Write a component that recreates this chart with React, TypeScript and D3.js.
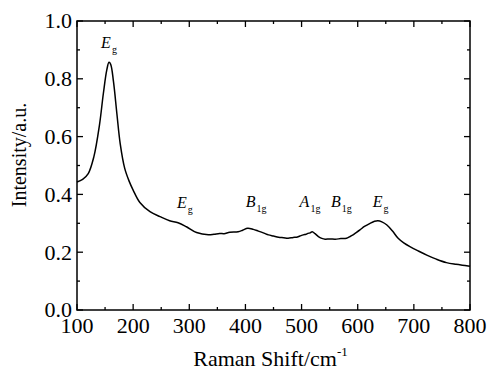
import React from 'react'
import * as d3 from 'd3'

// Raman spectrum
const shift = [100, 110, 120, 130, 140, 147, 153, 157, 160, 165, 171, 177, 185, 193, 200, 212, 230, 248, 265, 280, 295, 313, 334, 344, 354, 362, 372, 387, 395, 404, 414, 423, 433, 441, 450, 459, 468, 476, 485, 491, 497, 503, 508, 511, 515, 519, 524, 530, 536, 542, 550, 560, 570, 580, 586, 590, 596, 604, 612, 622, 630, 636, 643, 652, 662, 672, 682, 693, 708, 723, 740, 758, 775, 794, 800]
const intensity = [0.443, 0.452, 0.472, 0.530, 0.640, 0.750, 0.830, 0.857, 0.850, 0.790, 0.680, 0.575, 0.490, 0.445, 0.415, 0.372, 0.340, 0.323, 0.309, 0.302, 0.288, 0.268, 0.260, 0.262, 0.265, 0.264, 0.269, 0.271, 0.276, 0.283, 0.279, 0.273, 0.266, 0.260, 0.256, 0.252, 0.250, 0.248, 0.251, 0.252, 0.256, 0.260, 0.262, 0.265, 0.267, 0.271, 0.264, 0.254, 0.248, 0.245, 0.246, 0.245, 0.247, 0.248, 0.254, 0.258, 0.266, 0.277, 0.289, 0.300, 0.307, 0.309, 0.305, 0.294, 0.273, 0.248, 0.232, 0.219, 0.204, 0.190, 0.176, 0.164, 0.158, 0.153, 0.151]

// mode labels (symbol, subscript, where it sits in data units)
const modeSymbol = ['E', 'E', 'B', 'A', 'B', 'E']
const modeSub = ['g', 'g', '1g', '1g', '1g', 'g']
const modeX = [157, 292, 419, 515, 571, 641]
const modeY = [0.907, 0.353, 0.356, 0.356, 0.356, 0.356]

const xTicks = [100, 200, 300, 400, 500, 600, 700, 800]
const yTicks = [0.0, 0.2, 0.4, 0.6, 0.8, 1.0]
const xMinor = [150, 250, 350, 450, 550, 650, 750]
const yMinor = [0.1, 0.3, 0.5, 0.7, 0.9]

const W = 489
const H = 371
const margin = { top: 21, right: 19, bottom: 61, left: 77 }
const fontCss = `text, tspan { font-family: 'Liberation Serif', 'Times New Roman', Tinos, 'Nimbus Roman', FreeSerif !important; }`

export default function App() {
    const innerWidth = W - margin.left - margin.right
    const innerHeight = H - margin.top - margin.bottom

    const x = d3.scaleLinear().domain([100, 800]).range([0, innerWidth])
    const y = d3.scaleLinear().domain([0, 1]).range([innerHeight, 0])

    const line = d3.line<number>()
        .x(d => x(d))
        .y((d, i) => y(intensity[i]))
        .curve(d3.curveCatmullRom.alpha(0.5))

    const tick = { stroke: '#000', strokeWidth: 1.3 }

    return (
        <svg width={W} height={H} style={{ position: 'absolute', left: 0, top: 0, background: '#fff' }}>
            <style>{fontCss}</style>
            <g transform={`translate(${margin.left},${margin.top})`}>
                {/* ticks point inward on all four sides */}
                {xTicks.map(t => (
                    <g key={'x' + t}>
                        <line x1={x(t)} x2={x(t)} y1={innerHeight} y2={innerHeight - 6} {...tick} />
                        <line x1={x(t)} x2={x(t)} y1={0} y2={6} {...tick} />
                        <text x={x(t)} y={innerHeight + 23} textAnchor="middle" fontSize={22}>{t}</text>
                    </g>
                ))}
                {xMinor.map(t => (
                    <g key={'xm' + t}>
                        <line x1={x(t)} x2={x(t)} y1={innerHeight} y2={innerHeight - 3} {...tick} />
                        <line x1={x(t)} x2={x(t)} y1={0} y2={3} {...tick} />
                    </g>
                ))}
                {yTicks.map(t => (
                    <g key={'y' + t}>
                        <line x1={0} x2={6} y1={y(t)} y2={y(t)} {...tick} />
                        <line x1={innerWidth} x2={innerWidth - 6} y1={y(t)} y2={y(t)} {...tick} />
                        <text x={-5} y={y(t)} dy="0.34em" textAnchor="end" fontSize={22}>{d3.format('.1f')(t)}</text>
                    </g>
                ))}
                {yMinor.map(t => (
                    <g key={'ym' + t}>
                        <line x1={0} x2={3} y1={y(t)} y2={y(t)} {...tick} />
                        <line x1={innerWidth} x2={innerWidth - 3} y1={y(t)} y2={y(t)} {...tick} />
                    </g>
                ))}
                <rect width={innerWidth} height={innerHeight} fill="none" stroke="#000" strokeWidth={1.5} />

                <path d={line(shift) || ''} fill="none" stroke="#000" strokeWidth={1.5} />

                {modeSymbol.map((m, i) => (
                    <text key={'m' + i} x={x(modeX[i])} y={y(modeY[i])} textAnchor="middle">
                        <tspan fontStyle="italic" fontSize={16}>{m}</tspan>
                        <tspan fontSize={10} dx={1} dy={5}>{modeSub[i]}</tspan>
                    </text>
                ))}
            </g>

            <text x={margin.left + innerWidth / 2 - 3} y={366} textAnchor="middle" fontSize={22}>
                <tspan>Raman Shift/cm</tspan>
                <tspan fontSize={13} dy={-10}>-1</tspan>
            </text>
            <text transform="translate(26,155) rotate(-90)" textAnchor="middle" fontSize={20}>
                Intensity/a.u.
            </text>
        </svg>
    )
}
